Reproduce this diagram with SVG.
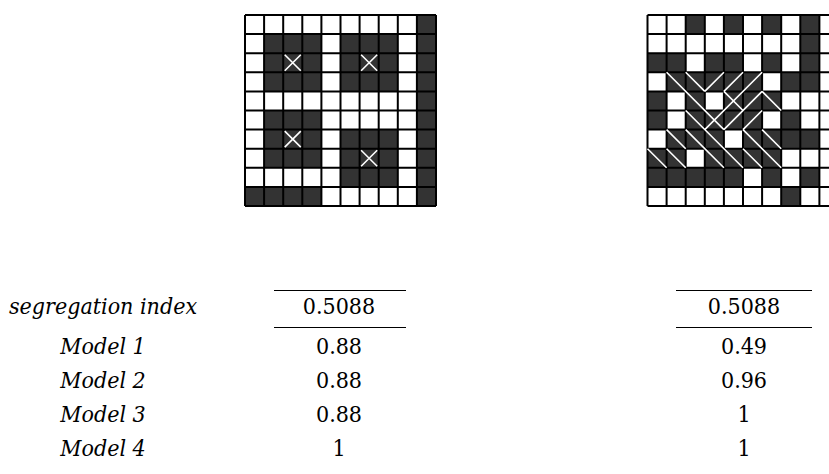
<svg xmlns="http://www.w3.org/2000/svg" width="829" height="474" viewBox="0 0 829 474">
<style>
  .blk { fill: #333333; }
  .grid { fill: none; stroke: #000; stroke-width: 2; vector-effect: non-scaling-stroke; }
  .wl { fill: none; stroke: #ffffff; stroke-width: 1.6; vector-effect: non-scaling-stroke; }
  .rule { stroke: #000; stroke-width: 1; }
  .txt { font-family: 'DejaVu Serif Condensed', 'DejaVu Serif', 'Liberation Serif', serif; font-stretch: condensed; font-size: 23px; fill: #000; }
  .lbl { font-style: italic; text-anchor: middle; }
  .val { text-anchor: middle; }
</style>
<rect width="829" height="474" fill="#ffffff"/>

<g id="grid-left" transform="translate(245,15) scale(19.1)">
  <rect x="0" y="0" width="10" height="10" fill="#ffffff"/>
  <g class="blk">
    <rect x="9" y="0" width="1" height="10"/>
    <rect x="1" y="1" width="3" height="3"/>
    <rect x="5" y="1" width="3" height="3"/>
    <rect x="1" y="5" width="3" height="3"/>
    <rect x="5" y="6" width="3" height="3"/>
    <rect x="0" y="9" width="4" height="1"/>
  </g>
  <path class="grid" d="M0 0H10M0 1H10M0 2H10M0 3H10M0 4H10M0 5H10M0 6H10M0 7H10M0 8H10M0 9H10M0 10H10M0 0V10M1 0V10M2 0V10M3 0V10M4 0V10M5 0V10M6 0V10M7 0V10M8 0V10M9 0V10M10 0V10"/>
  <path class="wl" d="M2.08 2.08L2.92 2.92M2.92 2.08L2.08 2.92M6.08 2.08L6.92 2.92M6.92 2.08L6.08 2.92M2.08 6.08L2.92 6.92M2.92 6.08L2.08 6.92M6.08 7.08L6.92 7.92M6.92 7.08L6.08 7.92"/>
</g>

<g id="grid-right" transform="translate(647.5,15) scale(19.1)">
  <rect x="0" y="0" width="10" height="10" fill="#ffffff"/>
  <g class="blk">
    <rect x="2" y="0" width="1" height="1"/><rect x="4" y="0" width="1" height="1"/><rect x="6" y="0" width="1" height="1"/><rect x="8" y="0" width="1" height="1"/>
    <rect x="8" y="1" width="1" height="1"/>
    <rect x="0" y="2" width="2" height="1"/><rect x="3" y="2" width="2" height="1"/><rect x="6" y="2" width="1" height="1"/><rect x="8" y="2" width="1" height="1"/>
    <rect x="1" y="3" width="5" height="1"/><rect x="7" y="3" width="2" height="1"/>
    <rect x="0" y="4" width="1" height="1"/><rect x="2" y="4" width="1" height="1"/><rect x="4" y="4" width="3" height="1"/>
    <rect x="0" y="5" width="1" height="1"/><rect x="2" y="5" width="4" height="1"/><rect x="7" y="5" width="1" height="1"/>
    <rect x="1" y="6" width="3" height="1"/><rect x="5" y="6" width="4" height="1"/>
    <rect x="0" y="7" width="2" height="1"/><rect x="3" y="7" width="4" height="1"/>
    <rect x="0" y="8" width="5" height="1"/><rect x="6" y="8" width="1" height="1"/><rect x="8" y="8" width="1" height="1"/>
    <rect x="7" y="9" width="1" height="1"/>
  </g>
  <path class="grid" d="M0 0H10M0 1H10M0 2H10M0 3H10M0 4H10M0 5H10M0 6H10M0 7H10M0 8H10M0 9H10M0 10H10M0 0V10M1 0V10M2 0V10M3 0V10M4 0V10M5 0V10M6 0V10M7 0V10M8 0V10M9 0V10M10 0V10"/>
  <path class="wl" d="M1 3L4 6M2 3L3 4M4 4L5 5M6 4L7 5M2 5L5 8M1 6L2 7M2 6L4 8M5 6L7 8M6 6L7 7M0 7L1 8M1 7L2 8M5 7L6 8M3 4L4 3M4 4L5 3M3 6L6 3M4 6L6 4M5 6L6 5"/>
</g>

<g id="table">
  <line class="rule" x1="274" y1="290.5" x2="406" y2="290.5"/>
  <line class="rule" x1="274" y1="327.5" x2="406" y2="327.5"/>
  <line class="rule" x1="676" y1="290.5" x2="812" y2="290.5"/>
  <line class="rule" x1="676" y1="327.5" x2="812" y2="327.5"/>

  <text class="txt lbl" x="103" y="314">segregation index</text>
  <text class="txt lbl" x="103" y="354">Model 1</text>
  <text class="txt lbl" x="103" y="388">Model 2</text>
  <text class="txt lbl" x="103" y="422">Model 3</text>
  <text class="txt lbl" x="103" y="456">Model 4</text>

  <text class="txt val" x="339" y="314">0.5088</text>
  <text class="txt val" x="339" y="354">0.88</text>
  <text class="txt val" x="339" y="388">0.88</text>
  <text class="txt val" x="339" y="422">0.88</text>
  <text class="txt val" x="339" y="456">1</text>

  <text class="txt val" x="744" y="314">0.5088</text>
  <text class="txt val" x="744" y="354">0.49</text>
  <text class="txt val" x="744" y="388">0.96</text>
  <text class="txt val" x="744" y="422">1</text>
  <text class="txt val" x="744" y="456">1</text>
</g>
</svg>
